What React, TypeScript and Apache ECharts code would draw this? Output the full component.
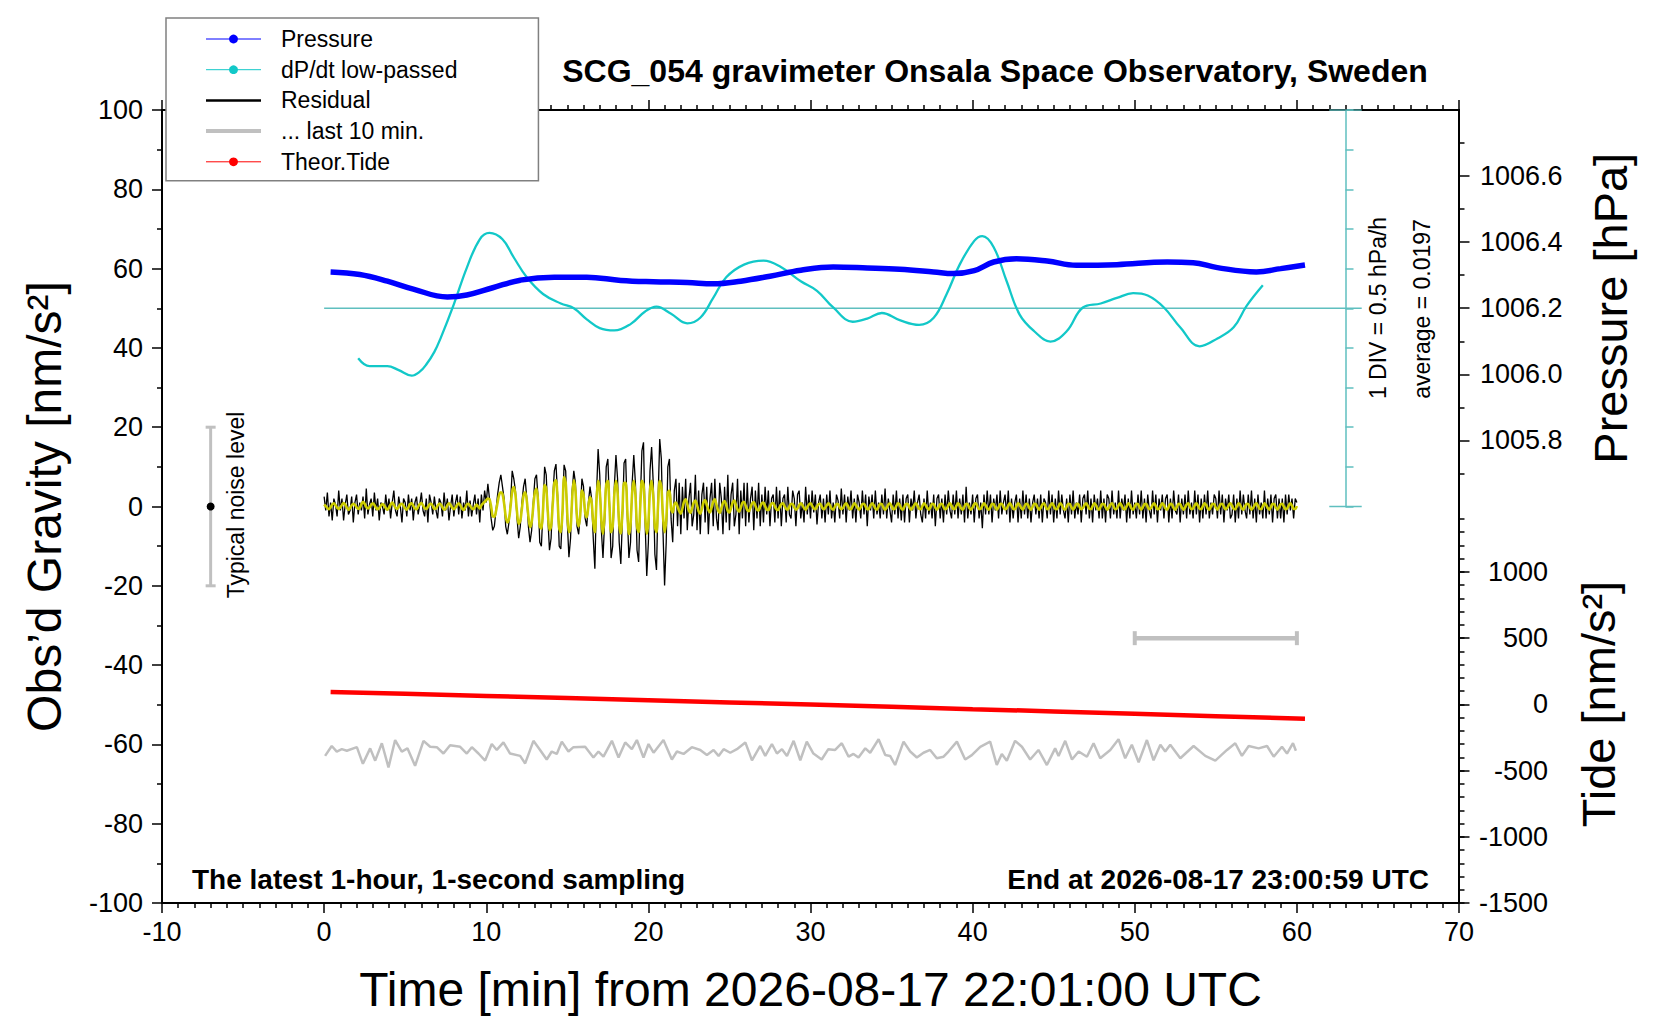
import { useEffect, useRef } from 'react';
import * as echarts from 'echarts';

const FONT = '"Liberation Sans", Arial, Helvetica, sans-serif';

// time in minutes after 2026-08-17 22:01:00 UTC
const pressure: [number, number][] = [
  [0.4, 1006.31], [2.2, 1006.302], [3.9, 1006.282], [5.5, 1006.258], [7.6, 1006.234], [8.8, 1006.24],
  [10.4, 1006.262], [12.1, 1006.285], [14.2, 1006.294], [16.2, 1006.294], [18.3, 1006.284], [20.3, 1006.28],
  [22.4, 1006.278], [24.0, 1006.274], [25.7, 1006.282], [27.5, 1006.297], [29.4, 1006.315], [31.4, 1006.325],
  [33.5, 1006.322], [35.5, 1006.318], [37.6, 1006.31], [38.8, 1006.305], [40.1, 1006.314], [41.3, 1006.34],
  [42.7, 1006.35], [44.6, 1006.343], [46.4, 1006.33], [48.9, 1006.332], [52.0, 1006.34], [53.6, 1006.338],
  [55.1, 1006.323], [57.5, 1006.31], [59.0, 1006.32], [60.5, 1006.331],
];

// hPa/h, low-passed
const dpdt: [number, number][] = [
  [2.1, -0.63], [2.8, -0.73], [3.9, -0.73], [4.6, -0.78], [5.4, -0.85], [5.9, -0.8], [6.3, -0.71], [6.8, -0.55],
  [7.2, -0.37], [8.0, 0.05], [8.8, 0.51], [9.6, 0.87], [10.2, 0.95], [11.0, 0.87], [11.7, 0.64], [12.5, 0.39],
  [13.5, 0.18], [14.6, 0.06], [15.4, 0.0], [16.2, -0.14], [17.0, -0.25], [17.9, -0.28], [18.9, -0.2], [19.8, -0.04],
  [20.5, 0.02], [21.4, -0.07], [22.4, -0.19], [23.2, -0.12], [24.0, 0.13], [24.8, 0.39], [25.9, 0.55], [27.1, 0.6],
  [28.1, 0.53], [29.4, 0.34], [30.4, 0.22], [31.4, 0.01], [32.6, -0.17], [33.5, -0.13], [34.4, -0.06], [35.5, -0.15],
  [36.7, -0.21], [37.6, -0.12], [38.4, 0.18], [39.2, 0.55], [40.1, 0.85], [40.6, 0.91], [41.3, 0.77], [42.1, 0.34],
  [42.9, -0.08], [43.8, -0.29], [44.8, -0.42], [45.8, -0.29], [46.8, 0.01], [47.9, 0.06], [48.9, 0.13], [49.9, 0.19],
  [50.8, 0.16], [51.8, 0.01], [52.8, -0.24], [54.0, -0.48], [55.1, -0.38], [56.1, -0.24], [56.9, 0.03], [57.9, 0.29],
];
const dpdtZero: [number, number][] = [[0, 0], [64, 0]];
const dpdtTopCap: [number, number][] = [[62, 2.5], [64, 2.5]];
const dpdtBottomCap: [number, number][] = [[62, -2.5], [64, -2.5]];

// nm/s^2
const tide: [number, number][] = [
  [0.4, 94], [5, 80], [10, 64], [15, 48], [20, 32], [25, 15], [30, -1], [35, -18], [40, -36],
  [45, -53], [50, -71], [55, -89], [60.5, -108],
];

// residual, one value every 0.1 min
const RES_STEP = 0.1;
const residual = [
  2.5, -1, 3.5, -2.5, 1, -3.5, 2, 0.5, -2.5, 4,
  -1, 2, -3.5, 0.5, 3, -2, -1, 2.5, -4, 1,
  3, -2, 1, -1, 2.5, -3, 4.5, -2, 0.5, 2,
  -2.5, 3.5, -1, 2, -3.5, 1, 0, -2, 3, -1,
  2, -3, 1, 4, -1, -2.5, 2.5, 0, -4, 2,
  1, -2.5, 3, -1, 2, -3.5, 1, 2.5, -2, 0.5,
  3.5, -1, -2.5, 2, -4, 3, 1, -2, 2.5, -1,
  -3, 2, 1, -2.5, 3.5, -1, 2, -3.5, 0, 3,
  -2.5, 1, 3, -2, 2.5, -3, 1, -1, 4, -2.5,
  1.5, -2.5, 0.5, 3, -2, 2, -4, 3, -1, 4,
  1, 5.7, 2, -3, -6, -5, -1, 3, 6, 8,
  5, 2, -5, -7, -4, 1, 9, 7, 4, -3,
  -8, -5, 1, 5, 7, 2, -5, -9, -6, 1,
  7, 8, 2, -9, -10, -1, 10, 8, -3, -11,
  -8, 2, 9, 10.7, 3, -10, -10.7, -2, 10.5, 9,
  -4, -12.8, -8, 4, 9, 6, -5, -7, -2, 7,
  5, -3, -5, 1, 5, 2, -8, -15.7, 3, 14.5,
  8, -6, -13, -4, 10, 12, 1, -13, -10, 5,
  13, 7, -9, -14.5, -3, 11, 12, -2, -13, -9,
  6, 13, 6, -11, -14, 1, 14, 16.2, -4, -17.5,
  -9, 9, 15, 6, -12, -16, 2, 17, 12, -6,
  -19.9, -9, 10, 12, -3, -9, 4, 7, -5, 6,
  -7, 5, -3, 7, -6, 2, 6, -5, -2, 8,
  -6, 4, -7, 3, 6, -4, 5, -7, 2, 6,
  -5, 7, -3, -6, 6, 2, -7, 5, -4, 8,
  -6, 3, 6, -5, -2, 7, -7, 4, -3, 6,
  -5, 6, -4, 2, 5, -6, 4, -3, 6, -5,
  3, -4, 5, -2, 4, -5, 2, 3, -4, 5,
  -3, 4, -5, 2, 3, -4, 5, -2, -3, 4,
  2, -5, 3, 4, -3, 1, -4, 5, -2, 3,
  -3, 4, -1.5, 3, -4.5, 1, 3, -3, 2, -4,
  3, -2, 4, -3, 1, -4, 3, 1.5, -3, 4.5,
  -2, 3, -4, 2.5, -1, 4, -3, 2, -4, 3,
  1, -3, 4, -2, 3, -5, 2.5, -1, 3, -3,
  4, -2, 1, -3, 3, -2, 4.5, -3, 2, -1,
  -4, 3, -2, 4, -3, 2, -3.5, 3, -4, 2,
  3, -4, 2, -1, 4, -3, 1, 3, -2, -4,
  2, -3, 4, -2, 1, -3, 3, -5, 2, 3,
  -3, 2, -4, 3, -2, 4, -1, -3, 3, -2,
  4, -3, 2, -2, 3, -4, 5, -3, 1, -2,
  3, -4, 2, 3, -3, 1, -5.5, 3, -2, 4,
  -2, 3, -4, 2, -1, 3, -3, 4, -2, 1,
  3, -2, 4, -4, 2, -3, 1, 3, -4, 2,
  -3, 4, -2, 3, -3, 2, -4, 1, 3, -2,
  2, -3, 3, -4, 2, 1, -3, 4, -2, 3,
  -4, 2, -3, 4, -2, 3, -1, -3, 2, -4,
  3, -2, 4, -3, 1, -2, 3, -4, 2, 3,
  -2, 4, -3, 2, -4, 3, -1, 2, -3, 4,
  -3, 2, -4, 3, 2, -3, 4, -2, 1, -3,
  4, -3, 2, -1, 3, -4, 2, -3, 4, -2,
  1, -3, 3, -2, 4, -3, 2, -4, 3, -1,
  -3, 4, -2, 3, -4, 2, -1, 3, -3, 2,
  3, -4, 2, -3, 4, -1, -2, 3, -4, 2,
  -2, 3, -3, 4, -2, 1, -3, 4, -2, 3,
  -4, 2, -3, 3, -2, 4, -3, 1, -2, 3,
  2, -3, 4, -2, 3, -4, 2, -1, 3, -3,
  -2, 3, -4, 2, -3, 4, -2, 3, -1, -3,
  3, -2, 4, -3, 2, -4, 3, -2, 1, -3,
  4, -3, 2, -2, 3, -4, 2, 3, -3, 2,
  -3, 2, -4, 3, -2, 3, -1, 2, -3, 2,
  1,
];

// band-passed residual (yellow), same sampling
const residualFiltered = [
  0.5, 0.1, -0.4, -0.7, -0.2, 0.5, 0.8, 0.3, -0.3, -0.6,
  -0.2, 0.4, 0.9, 0.5, -0.3, -0.8, -0.4, 0.3, 0.7, 0.4,
  -0.2, -0.6, -0.3, 0.6, 1.2, 0.7, -0.1, -0.5, -0.2, 0.4,
  0.8, 0.4, -0.3, -0.7, -0.4, 0.2, 0.6, 0.3, -0.4, -0.8,
  -0.3, 0.5, 1.0, 0.4, -0.3, -0.6, -0.1, 0.5, 0.7, 0.2,
  -0.5, -0.8, -0.2, 0.6, 0.8, 0.2, -0.5, -0.7, 0, 0.6,
  0.9, 0.3, -0.4, -0.6, -0.1, 0.5, 0.7, 0.1, -0.6, -0.5,
  0.2, 0.7, 0.5, -0.2, -0.8, -0.5, 0.3, 0.8, 0.4, -0.3,
  -0.7, -0.3, 0.4, 0.8, 0.3, -0.5, -0.9, -0.3, 0.5, 0.7,
  0.2, -0.4, -0.7, -0.2, 0.5, 0, -0.5, 0.3, 0.8, 1.2,
  1.6, 2.0, 1.8, 0, -2.5, -2.6, -1.2, 1.0, 3.0, 3.6,
  3.2, 0.8, -2.5, -4.0, -3.2, 0, 3.8, 4.9, 3.0, -1.5,
  -4.4, -3.6, -0.5, 2.8, 3.6, 1.5, -2.5, -5.2, -4.0, 0,
  3.6, 4.5, 1.0, -5.0, -5.6, -1.0, 5.4, 4.5, -1.5, -6.0,
  -5.0, 0.5, 6.0, 6.6, 1.5, -5.5, -6.5, -1.5, 7.4, 6.0,
  -2.0, -6.5, -5.5, 2.0, 6.6, 4.0, -3.0, -5.0, -2.0, 4.0,
  3.0, -1.5, -2.7, 0, 2.4, 1.0, -4.0, -6.5, 1.5, 6.5,
  4.0, -3.5, -6.9, -2.0, 5.5, 6.5, 0, -6.5, -5.0, 3.0,
  6.5, 3.5, -4.5, -6.8, -1.0, 6.0, 6.0, -1.0, -6.9, -4.5,
  3.5, 6.5, 3.0, -5.0, -6.5, 0, 6.5, 5.5, -2.0, -6.9,
  -4.0, 4.0, 6.5, 2.5, -5.0, -6.5, 0.5, 6.5, 5.0, -2.5,
  -6.5, -3.5, 3.5, 4.0, -0.5, -1.5, 0.5, 1.0, 0, -1.2,
  -1.8, -0.5, 1.2, 1.8, 0.6, -1.0, -1.6, -0.4, 1.0, 1.5,
  0.4, -1.2, -1.8, -0.6, 1.0, 1.6, 0.5, -0.9, -1.5, -0.3,
  1.2, 1.8, 0.4, -1.0, -1.6, -0.5, 0.9, 1.4, 0.3, -1.1,
  -1.5, -0.4, 1.0, 1.5, 0.4, -0.8, -1.3, -0.3, 0.9, 1.2,
  0.2, -0.9, -1.2, -0.2, 0.8, 1.1, 0.2, -0.8, -1.0, 0,
  0.8, 1.0, 0.1, -0.8, -0.9, 0, 0.7, 0.9, 0, -0.7,
  -0.9, -0.1, 0.6, 0.8, 0.1, -0.6, -0.8, 0, 0.7, 0.6,
  -0.2, -0.8, -0.5, 0.3, 0.8, 0.4, -0.4, -0.8, -0.2, 0.5,
  0.8, 0.2, -0.5, -0.7, 0, 0.6, 0.7, -0.1, -0.7, -0.4,
  0.3, 0.8, 0.3, -0.5, -0.8, -0.1, 0.6, 0.6, -0.2, -0.7,
  -0.4, 0.4, 0.8, 0.2, -0.6, -0.7, 0.1, 0.8, 0.4, -0.4,
  -0.8, -0.2, 0.6, 0.7, 0, -0.7, -0.6, 0.3, 0.8, 0.3,
  -0.5, -0.8, 0, 0.7, 0.6, -0.3, -0.8, -0.3, 0.5, 0.8,
  0.1, -0.7, -0.6, 0.2, 0.8, 0.4, -0.5, -0.8, 0, 0.7,
  0.6, -0.2, -0.8, -0.4, 0.4, 0.8, 0.2, -0.6, -0.7, 0.1,
  0.8, 0.4, -0.4, -0.8, -0.1, 0.7, 0.6, -0.3, -0.8, -0.2,
  0.6, 0.7, -0.1, -0.7, -0.5, 0.3, 0.8, 0.2, -0.6, -0.6,
  0.2, 0.8, 0.3, -0.5, -0.8, 0, 0.7, 0.5, -0.4, -0.8,
  -0.2, 0.6, 0.8, 0, -0.7, -0.6, 0.2, 0.8, 0.3, -0.5,
  -0.8, -0.1, 0.7, 0.6, -0.3, -0.8, -0.2, 0.6, 0.7, -0.1,
  -0.7, -0.5, 0.3, 0.8, 0.2, -0.6, -0.7, 0.1, 0.8, 0.4,
  -0.4, -0.8, 0, 0.7, 0.5, -0.4, -0.8, -0.1, 0.7, 0.6,
  -0.2, -0.8, -0.3, 0.5, 0.8, 0, -0.7, -0.5, 0.3, 0.8,
  0.2, -0.6, -0.7, 0.1, 0.8, 0.4, -0.5, -0.8, 0, 0.7,
  0.6, -0.3, -0.8, -0.2, 0.6, 0.7, -0.1, -0.7, -0.4, 0.4,
  0.8, 0.2, -0.6, -0.7, 0.1, 0.8, 0.4, -0.5, -0.8, 0,
  0.7, 0.6, -0.2, -0.8, -0.3, 0.5, 0.8, 0, -0.7, -0.5,
  0.3, 0.8, 0.2, -0.6, -0.7, 0.1, 0.8, 0.4, -0.5, -0.8,
  0, 0.7, 0.6, -0.3, -0.8, -0.2, 0.6, 0.7, -0.1, -0.7,
  -0.4, 0.4, 0.8, 0.1, -0.7, -0.6, 0.2, 0.8, 0.3, -0.5,
  -0.8, 0, 0.7, 0.5, -0.4, -0.8, -0.1, 0.7, 0.6, -0.2,
  -0.8, -0.3, 0.5, 0.8, 0, -0.7, -0.5, 0.3, 0.8, 0.2,
  -0.6, -0.7, 0.1, 0.8, 0.4, -0.5, -0.8, 0, 0.7, 0.6,
  -0.3, -0.8, -0.2, 0.6, 0.7, -0.1, -0.7, -0.4, 0.4, 0.8,
  0.2, -0.6, -0.7, 0.1, 0.8, 0.4, -0.5, -0.8, 0, 0.7,
  0.6, -0.2, -0.8, -0.4, 0.4, 0.8, 0.2, -0.6, -0.7, 0.1,
  0.8, 0.4, -0.4, -0.8, -0.1, 0.7, 0.6, -0.3, -0.8, -0.2,
  0.6, 0.7, -0.1, -0.7, -0.5, 0.3, 0.8, 0.2, -0.6, -0.6,
  0.1,
];

// last 10 minutes of the residual, stretched over the hour and offset
const lastTen: [number, number][] = [
  [0.06, -62.9], [0.47, -60.4], [0.78, -61.8], [1.09, -61.2], [1.4, -61.6], [2.02, -60.7], [2.39, -64.9],
  [2.84, -61.0], [3.15, -64.1], [3.56, -59.7], [3.97, -65.8], [4.38, -58.9], [4.79, -61.8], [5.14, -61.0],
  [5.61, -65.4], [6.13, -59.1], [6.54, -60.6], [6.95, -60.7], [7.36, -62.3], [7.77, -60.2], [8.39, -60.6],
  [8.8, -62.3], [9.11, -60.7], [9.52, -62.3], [9.93, -64.1], [10.34, -59.9], [10.65, -61.4], [11.06, -59.5],
  [11.47, -62.3], [12.09, -62.9], [12.4, -64.8], [12.91, -59.1], [13.32, -61.4], [13.73, -63.8], [14.04, -61.8],
  [14.35, -62.4], [14.66, -59.3], [15.07, -61.8], [15.38, -60.7], [16.1, -60.6], [16.61, -63.3], [16.92, -61.8],
  [17.23, -63.1], [17.75, -59.1], [18.16, -63.3], [18.57, -59.5], [18.98, -61.2], [19.29, -58.9], [19.7, -63.3],
  [20.01, -59.9], [20.32, -62.1], [20.93, -58.9], [21.45, -63.8], [21.76, -61.8], [22.17, -62.4], [22.68, -60.7],
  [23.2, -61.4], [23.61, -62.7], [24.02, -61.4], [24.33, -62.9], [24.64, -61.2], [25.05, -62.1], [25.46, -61.2],
  [25.98, -59.5], [26.39, -64.0], [26.9, -60.4], [27.21, -62.9], [27.62, -59.9], [27.93, -62.3], [28.24, -61.2],
  [28.55, -62.9], [28.96, -59.1], [29.37, -64.0], [29.77, -59.3], [30.18, -62.3], [30.69, -63.8], [31.1, -61.2],
  [31.52, -61.4], [31.93, -59.7], [32.35, -63.1], [32.65, -62.4], [32.96, -63.3], [33.38, -61.0], [33.68, -62.1],
  [34.2, -58.7], [34.61, -62.7], [34.91, -62.9], [35.22, -65.2], [35.74, -59.3], [36.15, -61.8], [36.56, -63.3],
  [36.97, -62.1], [37.38, -61.4], [37.79, -63.5], [38.21, -63.1], [38.51, -61.8], [39.03, -59.3], [39.54, -63.8],
  [39.95, -62.7], [40.47, -60.6], [41.08, -59.3], [41.49, -65.2], [41.8, -62.4], [42.11, -64.1], [42.62, -59.1],
  [43.04, -60.6], [43.55, -63.8], [44.06, -61.4], [44.58, -65.2], [45.09, -61.0], [45.3, -62.9], [45.71, -59.1],
  [46.13, -63.8], [46.54, -61.8], [47.05, -63.1], [47.46, -59.7], [47.87, -63.5], [48.49, -61.4], [49.0, -58.7],
  [49.41, -63.5], [49.82, -60.1], [50.24, -64.5], [50.75, -58.9], [51.16, -64.0], [51.58, -60.1], [51.88, -61.8],
  [52.19, -60.1], [52.81, -63.5], [53.63, -60.4], [54.35, -62.9], [54.97, -64.1], [55.69, -61.4], [56.2, -59.7],
  [56.61, -62.9], [57.03, -60.4], [57.64, -61.0], [58.16, -60.4], [58.57, -63.1], [59.08, -60.6], [59.39, -62.3],
  [59.76, -59.7], [59.94, -61.6],
];

// [time, centre, low, high] in nm/s^2
const noiseBar = [[-7, 0, -20, 20]];
// [from, to, tide level] marking the 10-minute span
const lastTenBar = [[50, 60, 500]];

const pressureLabels = [1005.8, 1006.0, 1006.2, 1006.4, 1006.6];
const tideLabels = [-1500, -1000, -500, 0, 500, 1000];

const CYAN = '#12c8c8';
const CYAN_AXIS = '#5fbfbf';
const GRAY = '#c0c0c0';

const tickStyle = { color: '#000', width: 1.5 };
const labelStyle = { color: '#000', fontSize: 27, fontFamily: FONT };
const blackLine = { onZero: false, lineStyle: { color: '#000', width: 2 } };

function buildOption() {
  return {
    animation: false,
    textStyle: { fontFamily: FONT },
    title: {
      text: 'SCG_054 gravimeter Onsala Space Observatory, Sweden',
      left: 995,
      top: 55,
      textAlign: 'center',
      padding: 0,
      textStyle: { fontSize: 32, fontWeight: 'bold', color: '#000', fontFamily: FONT },
    },
    legend: {
      orient: 'vertical',
      left: 166,
      top: 18,
      padding: [9, 81, 7, 38],
      itemWidth: 55,
      itemHeight: 11,
      itemGap: 6.7,
      backgroundColor: '#fff',
      borderColor: '#808080',
      borderWidth: 1.5,
      selectedMode: false,
      z: 20,
      textStyle: { fontSize: 23, lineHeight: 24, color: '#000', fontFamily: FONT, padding: [0, 0, 0, 15] },
      data: [
        { name: 'Pressure', itemStyle: { color: '#0000ff' }, lineStyle: { width: 1, color: '#0000ff' } },
        { name: 'dP/dt low-passed', itemStyle: { color: CYAN }, lineStyle: { width: 1, color: CYAN } },
        { name: 'Residual', itemStyle: { opacity: 0 }, lineStyle: { width: 2.5, color: '#000' } },
        { name: '... last 10 min.', itemStyle: { opacity: 0 }, lineStyle: { width: 4, color: GRAY } },
        { name: 'Theor.Tide', itemStyle: { color: '#ff0000' }, lineStyle: { width: 1, color: '#ff0000' } },
      ],
    },
    grid: [
      { left: 162, top: 110, width: 1297, height: 793, show: true, borderColor: '#000', borderWidth: 2 },
      { left: 162, top: 110, width: 1297, height: 396.5 },
      { left: 162, top: 519, width: 1297, height: 384 },
      { left: 162, top: 110, width: 1183.5, height: 396.5 },
    ],
    xAxis: [
      {
        gridIndex: 0,
        type: 'value',
        position: 'bottom',
        min: -10,
        max: 70,
        interval: 10,
        axisLine: blackLine,
        axisTick: { length: 10, lineStyle: tickStyle },
        minorTick: { show: true, splitNumber: 10, length: 5, lineStyle: tickStyle },
        axisLabel: { ...labelStyle, margin: 15 },
        splitLine: { show: false },
        name: 'Time [min] from 2026-08-17 22:01:00 UTC',
        nameLocation: 'middle',
        nameGap: 62,
        nameTextStyle: { fontSize: 48, color: '#000', fontFamily: FONT },
      },
      {
        gridIndex: 0,
        type: 'value',
        position: 'top',
        min: -10,
        max: 70,
        interval: 10,
        axisLine: blackLine,
        axisTick: { length: 10, lineStyle: tickStyle },
        minorTick: { show: true, splitNumber: 10, length: 5, lineStyle: tickStyle },
        axisLabel: { show: false },
        splitLine: { show: false },
      },
      { gridIndex: 1, type: 'value', min: -10, max: 70, show: false, axisLine: { onZero: false } },
      { gridIndex: 2, type: 'value', min: -10, max: 70, show: false, axisLine: { onZero: false } },
      { gridIndex: 3, type: 'value', min: -10, max: 63, show: false, axisLine: { onZero: false } },
    ],
    yAxis: [
      {
        gridIndex: 0,
        type: 'value',
        position: 'left',
        min: -100,
        max: 100,
        interval: 20,
        axisLine: blackLine,
        axisTick: { length: 10, lineStyle: tickStyle },
        minorTick: { show: true, splitNumber: 2, length: 5, lineStyle: tickStyle },
        axisLabel: { ...labelStyle, margin: 19 },
        splitLine: { show: false },
        name: 'Obs\u2019d Gravity [nm/s\u00b2]',
        nameLocation: 'middle',
        nameRotate: 90,
        nameGap: 94,
        nameTextStyle: { fontSize: 48, color: '#000', fontFamily: FONT },
      },
      {
        gridIndex: 1,
        type: 'value',
        position: 'right',
        min: 1005.6,
        max: 1006.8,
        interval: 0.2,
        axisLine: blackLine,
        axisTick: { length: 10.5, customValues: pressureLabels, lineStyle: tickStyle },
        minorTick: { show: true, splitNumber: 2, length: 5.5, lineStyle: tickStyle },
        axisLabel: {
          ...labelStyle,
          margin: 21,
          customValues: pressureLabels,
          formatter: (v: number) => v.toFixed(1),
        },
        splitLine: { show: false },
        name: 'Pressure [hPa]',
        nameLocation: 'middle',
        nameRotate: 90,
        nameGap: 128,
        nameTextStyle: { fontSize: 47, color: '#000', fontFamily: FONT },
      },
      {
        gridIndex: 2,
        type: 'value',
        position: 'right',
        min: -1500,
        max: 1400,
        interval: 100,
        axisLine: blackLine,
        axisTick: { length: 5.5, lineStyle: tickStyle },
        axisLabel: { show: false },
        splitLine: { show: false },
      },
      {
        gridIndex: 2,
        type: 'value',
        position: 'right',
        min: -1500,
        max: 1400,
        interval: 500,
        axisLine: { show: false, onZero: false },
        axisTick: { length: 10.5, customValues: tideLabels, lineStyle: tickStyle },
        axisLabel: {
          ...labelStyle,
          margin: 89,
          align: 'right',
          customValues: tideLabels,
          formatter: (v: number) => String(v),
        },
        splitLine: { show: false },
        name: 'Tide [nm/s\u00b2]',
        nameLocation: 'middle',
        nameRotate: 90,
        nameGap: 116,
        nameTextStyle: { fontSize: 47, color: '#000', fontFamily: FONT, padding: [0, 0, 0, 14] },
      },
      {
        // visible dP/dt scale bar: 1 DIV = 0.5 hPa/h
        gridIndex: 3,
        type: 'value',
        position: 'right',
        min: -2.5,
        max: 2.5,
        interval: 0.5,
        axisLine: { onZero: false, lineStyle: { color: CYAN_AXIS, width: 1.5 } },
        axisTick: { length: 8, lineStyle: { color: CYAN_AXIS, width: 1.5 } },
        axisLabel: { show: false },
        splitLine: { show: false },
      },
      {
        // same dP/dt scale stretched over the whole main grid, for drawing
        gridIndex: 0,
        type: 'value',
        min: -7.5,
        max: 2.5,
        show: false,
        axisLine: { onZero: false },
      },
    ],
    series: [
      ...[dpdtZero, dpdtTopCap, dpdtBottomCap].map((d) => ({
        type: 'line',
        xAxisIndex: 0,
        yAxisIndex: 5,
        data: d,
        symbol: 'none',
        silent: true,
        lineStyle: { color: CYAN_AXIS, width: 1.5 },
      })),
      {
        name: 'dP/dt low-passed',
        type: 'line',
        xAxisIndex: 0,
        yAxisIndex: 5,
        data: dpdt,
        smooth: 0.4,
        symbol: 'circle',
        showSymbol: false,
        silent: true,
        itemStyle: { color: CYAN },
        lineStyle: { color: CYAN, width: 2.3 },
      },
      {
        name: 'Pressure',
        type: 'line',
        xAxisIndex: 2,
        yAxisIndex: 1,
        data: pressure,
        smooth: 0.4,
        symbol: 'circle',
        showSymbol: false,
        silent: true,
        itemStyle: { color: '#0000ff' },
        lineStyle: { color: '#0000ff', width: 5.5 },
      },
      {
        name: 'Residual',
        type: 'line',
        xAxisIndex: 0,
        yAxisIndex: 0,
        data: residual.map((v, i) => [i * RES_STEP, v]),
        symbol: 'none',
        silent: true,
        itemStyle: { color: '#000' },
        lineStyle: { color: '#000', width: 1.3 },
      },
      {
        name: 'Residual band-passed',
        type: 'line',
        xAxisIndex: 0,
        yAxisIndex: 0,
        data: residualFiltered.map((v, i) => [i * RES_STEP, v]),
        symbol: 'none',
        smooth: 0.3,
        silent: true,
        lineStyle: { color: '#cccc00', width: 2.6 },
      },
      {
        name: '... last 10 min.',
        type: 'line',
        xAxisIndex: 0,
        yAxisIndex: 0,
        data: lastTen,
        symbol: 'none',
        silent: true,
        itemStyle: { color: GRAY },
        lineStyle: { color: GRAY, width: 2.5 },
      },
      {
        name: 'Theor.Tide',
        type: 'line',
        xAxisIndex: 3,
        yAxisIndex: 2,
        data: tide,
        symbol: 'circle',
        showSymbol: false,
        silent: true,
        itemStyle: { color: '#ff0000' },
        lineStyle: { color: '#ff0000', width: 4.5 },
      },
      {
        type: 'custom',
        xAxisIndex: 0,
        yAxisIndex: 0,
        data: noiseBar,
        silent: true,
        renderItem: (_p: any, api: any) => {
          const c = api.coord([api.value(0), api.value(1)]);
          const lo = api.coord([api.value(0), api.value(2)]);
          const hi = api.coord([api.value(0), api.value(3)]);
          const st = { stroke: GRAY, lineWidth: 3 };
          return {
            type: 'group',
            children: [
              { type: 'line', shape: { x1: lo[0], y1: lo[1], x2: hi[0], y2: hi[1] }, style: st },
              { type: 'line', shape: { x1: lo[0] - 5, y1: lo[1], x2: lo[0] + 5, y2: lo[1] }, style: st },
              { type: 'line', shape: { x1: hi[0] - 5, y1: hi[1], x2: hi[0] + 5, y2: hi[1] }, style: st },
              { type: 'circle', shape: { cx: c[0], cy: c[1], r: 4 }, style: { fill: '#000' } },
            ],
          };
        },
      },
      {
        type: 'custom',
        xAxisIndex: 3,
        yAxisIndex: 2,
        data: lastTenBar,
        silent: true,
        renderItem: (_p: any, api: any) => {
          const a = api.coord([api.value(0), api.value(2)]);
          const b = api.coord([api.value(1), api.value(2)]);
          const st = { stroke: GRAY, lineWidth: 4.5 };
          return {
            type: 'group',
            children: [
              { type: 'line', shape: { x1: a[0], y1: a[1], x2: b[0], y2: b[1] }, style: st },
              { type: 'line', shape: { x1: a[0], y1: a[1] - 7, x2: a[0], y2: a[1] + 7 }, style: { stroke: GRAY, lineWidth: 4 } },
              { type: 'line', shape: { x1: b[0], y1: b[1] - 7, x2: b[0], y2: b[1] + 7 }, style: { stroke: GRAY, lineWidth: 4 } },
            ],
          };
        },
      },
    ],
    graphic: [
      {
        type: 'text',
        x: 192,
        y: 879,
        z: 30,
        style: { text: 'The latest 1-hour, 1-second sampling', fill: '#000', font: `bold 28px ${FONT}`, verticalAlign: 'middle' },
      },
      {
        type: 'text',
        x: 1429,
        y: 879,
        z: 30,
        style: { text: 'End at 2026-08-17 23:00:59 UTC', fill: '#000', font: `bold 28px ${FONT}`, align: 'right', verticalAlign: 'middle' },
      },
      {
        type: 'text',
        x: 1378,
        y: 308,
        rotation: Math.PI / 2,
        z: 30,
        style: { text: '1 DIV = 0.5 hPa/h', fill: '#000', font: `23px ${FONT}`, align: 'center', verticalAlign: 'middle' },
      },
      {
        type: 'text',
        x: 1422,
        y: 309,
        rotation: Math.PI / 2,
        z: 30,
        style: { text: 'average = 0.0197', fill: '#000', font: `23px ${FONT}`, align: 'center', verticalAlign: 'middle' },
      },
      {
        type: 'text',
        x: 236,
        y: 505,
        rotation: Math.PI / 2,
        z: 30,
        style: { text: 'Typical noise level', fill: '#000', font: `23px ${FONT}`, align: 'center', verticalAlign: 'middle' },
      },
    ],
  };
}

export default function App() {
  const chartRef = useRef<HTMLDivElement | null>(null);

  useEffect(() => {
    if (!chartRef.current) return;
    const chart = echarts.init(chartRef.current, undefined, { renderer: 'svg' });
    chart.setOption(buildOption() as any);
    return () => {
      chart.dispose();
    };
  }, []);

  return (
    <div
      ref={chartRef}
      style={{ position: 'absolute', left: 0, top: 0, width: 1660, height: 1020, background: '#fff' }}
    />
  );
}
